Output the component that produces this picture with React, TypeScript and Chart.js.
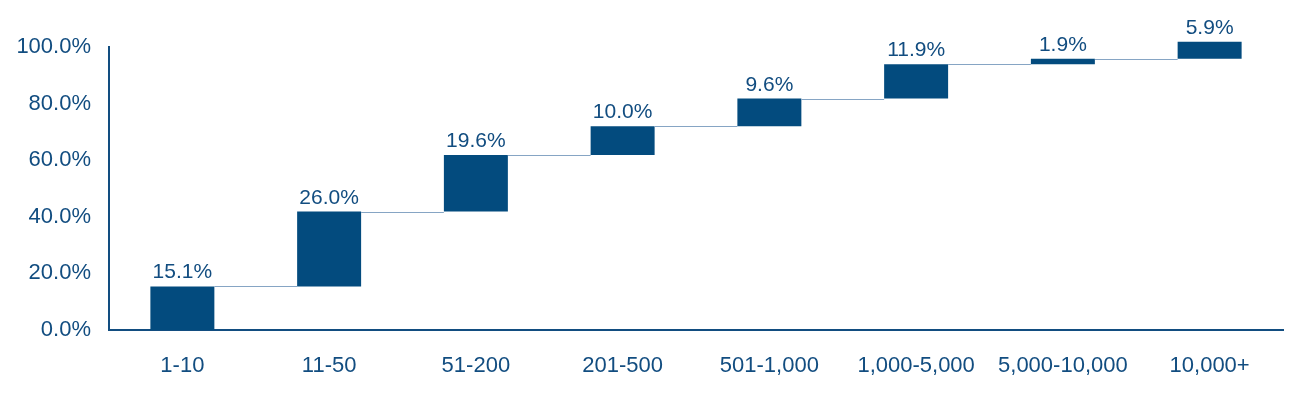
import React, { useEffect, useRef } from "react";
import { Chart, registerables } from "chart.js";

Chart.register(...registerables);

const categories = ["1-10", "11-50", "51-200", "201-500", "501-1,000", "1,000-5,000", "5,000-10,000", "10,000+"];
const shares = [15.1, 26.0, 19.6, 10.0, 9.6, 11.9, 1.9, 5.9];
const yTicks = [0, 20, 40, 60, 80, 100];

const BAR = "#034b7e";
const TEXT = "#124d80";
const LINK = "#86a5c4";
const FONT = "'Liberation Sans', Arial, sans-serif";

export default function App() {
  const ref = useRef<HTMLCanvasElement | null>(null);

  useEffect(() => {
    document.body.style.margin = "0";
    const ends: number[] = [];
    let acc = 0;
    shares.forEach((v) => {
      acc += v;
      ends.push(Math.round(acc * 10) / 10);
    });
    const floating = shares.map((v, i) => [ends[i] - v, ends[i]]);

    const overlay = {
      id: "overlay",
      afterDatasetsDraw(chart: any) {
        const ctx = chart.ctx;
        const meta = chart.getDatasetMeta(0);
        const yb = chart.scales.yb;
        ctx.save();
        ctx.strokeStyle = LINK;
        ctx.lineWidth = 1;
        for (let i = 0; i < meta.data.length - 1; i++) {
          const a = meta.data[i] as any;
          const b = meta.data[i + 1] as any;
          const y = Math.round(yb.getPixelForValue(ends[i])) + 0.5;
          ctx.beginPath();
          ctx.moveTo(a.x + a.width / 2, y);
          ctx.lineTo(b.x - b.width / 2, y);
          ctx.stroke();
        }
        ctx.fillStyle = TEXT;
        ctx.font = `21px ${FONT}`;
        ctx.textAlign = "center";
        ctx.textBaseline = "alphabetic";
        meta.data.forEach((el: any, i: number) => {
          const top = yb.getPixelForValue(ends[i]);
          ctx.fillText(shares[i].toFixed(1) + "%", el.x, top - 8);
        });
        ctx.restore();
      },
    };

    const chart = new Chart(ref.current as HTMLCanvasElement, {
      type: "bar",
      data: {
        labels: categories,
        datasets: [
          {
            data: floating as any,
            backgroundColor: BAR,
            borderWidth: 0,
            barPercentage: 0.436,
            categoryPercentage: 1,
            yAxisID: "yb",
            clip: false as any,
          },
        ],
      },
      options: {
        animation: false,
        responsive: true,
        maintainAspectRatio: false,
        layout: { padding: { top: 47, right: 17, left: 0, bottom: 0 } },
        plugins: { legend: { display: false }, tooltip: { enabled: false } },
        scales: {
          x: {
            grid: { display: false, drawTicks: false },
            border: { display: true, color: TEXT, width: 2 },
            ticks: { color: TEXT, font: { size: 22, family: FONT }, padding: 23, maxRotation: 0, autoSkip: false },
            afterFit(scale: any) {
              scale.height = 63;
            },
          },
          y: {
            min: 0,
            max: 100,
            grid: { display: false, drawTicks: false },
            border: { display: true, color: TEXT, width: 2 },
            afterBuildTicks(scale: any) {
              scale.ticks = yTicks.map((v) => ({ value: v }));
            },
            ticks: {
              color: TEXT,
              font: { size: 22, family: FONT },
              padding: 18,
              callback: (v: any) => Number(v).toFixed(1) + "%",
            },
            afterFit(scale: any) {
              scale.width = 109;
            },
          },
          yb: {
            display: false,
            min: 0,
            max: 98.2,
          },
        },
      },
      plugins: [overlay],
    });
    return () => chart.destroy();
  }, []);

  return (
    <div style={{ position: "absolute", left: 0, top: 0, width: 1300, height: 393 }}>
      <canvas ref={ref} />
    </div>
  );
}
